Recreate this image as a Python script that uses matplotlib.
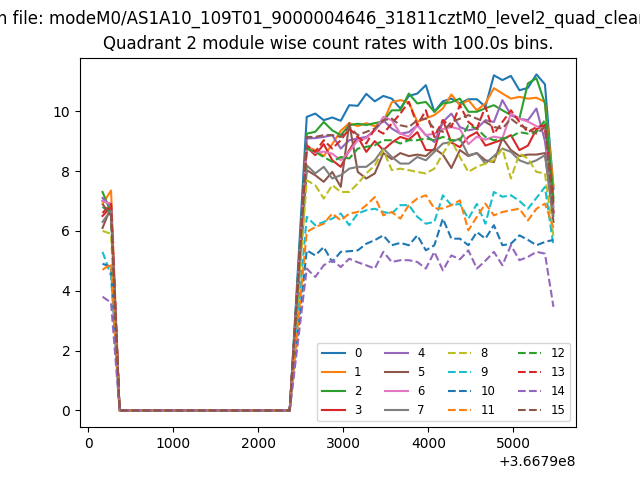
import matplotlib
matplotlib.use("Agg")
import matplotlib.pyplot as plt

# Time bins (s, MET), 100 s bins; a data gap between 366792370 and 366792570
t_head = [366790170, 366790270]
t_zero = [366790370 + 100 * k for k in range(21)]
t_high = [366792570 + 100 * k for k in range(30)]
times = t_head + t_zero + t_high

gap = [0.0] * 21

m0 = [7.0, 6.9] + gap + [9.81, 9.92, 9.70, 9.79, 9.68, 10.2, 10.18, 10.58, 10.33, 10.51, 10.42, 10.09, 10.51, 10.59, 10.87, 9.98, 10.33, 10.42, 10.26, 10.4, 10.4, 10.15, 11.2, 11.04, 11.18, 10.7, 10.78, 11.23, 10.9, 7.4]
m1 = [6.9, 7.35] + gap + [8.8, 8.7, 8.5, 8.9, 9.35, 9.6, 9.5, 9.6, 9.5, 9.65, 10.3, 10.37, 10.3, 9.64, 9.76, 9.87, 10.09, 10.56, 10.2, 10.37, 10.03, 10.26, 10.77, 10.59, 10.42, 10.48, 10.42, 10.45, 10.31, 7.5]
m2 = [7.3, 6.6] + gap + [9.25, 9.31, 9.64, 9.36, 9.2, 9.53, 9.58, 9.54, 9.6, 9.66, 10.03, 10.03, 10.59, 10.26, 10.31, 9.98, 10.26, 10.3, 10.42, 9.98, 9.98, 10.1, 10.2, 10.03, 9.87, 9.76, 10.93, 11.1, 10.26, 7.1]
m3 = [6.5, 6.8] + gap + [8.8, 8.53, 8.9, 8.36, 8.14, 8.7, 9.14, 8.64, 9.0, 8.7, 8.95, 9.14, 9.05, 9.3, 8.7, 8.7, 9.7, 8.95, 8.8, 9.14, 9.3, 8.85, 8.95, 9.05, 9.2, 8.7, 8.85, 9.4, 9.53, 6.6]
m4 = [7.1, 6.8] + gap + [9.09, 9.1, 9.14, 9.2, 8.75, 9.03, 9.09, 9.14, 9.36, 9.7, 9.42, 9.25, 9.3, 9.53, 9.2, 8.97, 9.64, 9.92, 9.47, 9.36, 9.42, 9.7, 9.64, 10.37, 9.87, 9.75, 9.7, 10.09, 9.0, 6.8]
m5 = [6.1, 6.8] + gap + [8.03, 7.86, 7.64, 7.97, 7.47, 9.6, 7.97, 7.75, 7.92, 8.6, 8.4, 8.6, 8.5, 8.55, 8.5, 8.75, 8.55, 8.1, 8.7, 8.5, 8.6, 8.36, 8.3, 9.1, 8.7, 8.5, 8.55, 8.55, 8.6, 6.3]
m6 = [7.0, 6.9] + gap + [8.81, 8.6, 8.65, 8.58, 8.36, 8.65, 9.03, 9.1, 9.36, 9.81, 9.7, 9.25, 9.15, 9.53, 9.2, 9.25, 9.4, 9.47, 9.4, 8.9, 9.15, 9.05, 9.15, 9.1, 9.92, 9.75, 9.65, 9.5, 9.4, 6.6]
m7 = [6.3, 6.7] + gap + [8.19, 7.92, 8.14, 7.75, 7.86, 8.08, 8.14, 8.14, 8.36, 8.75, 8.47, 8.25, 8.25, 8.47, 8.36, 8.64, 8.92, 8.97, 9.09, 8.53, 8.6, 8.25, 8.5, 8.75, 8.64, 8.36, 8.25, 8.36, 8.53, 6.5]
m8 = [6.0, 5.9] + gap + [7.69, 7.53, 7.08, 7.53, 7.3, 7.3, 7.58, 7.92, 8.19, 8.7, 8.03, 8.08, 8.03, 7.97, 7.92, 8.08, 8.58, 9.03, 8.47, 7.97, 8.14, 8.25, 8.36, 8.75, 7.75, 8.58, 8.42, 7.97, 7.92, 5.8]
m9 = [5.3, 4.5] + gap + [6.47, 6.19, 6.3, 6.41, 6.58, 6.19, 6.58, 6.69, 6.74, 6.63, 6.58, 6.86, 6.86, 6.47, 6.24, 6.3, 7.19, 6.86, 6.9, 6.41, 6.9, 6.24, 7.3, 7.14, 7.19, 7.0, 6.74, 7.1, 7.47, 5.5]
m10 = [4.9, 4.8] + gap + [5.35, 5.18, 5.46, 4.96, 5.3, 5.32, 5.35, 5.57, 5.69, 5.85, 5.52, 5.6, 5.52, 5.85, 5.35, 5.52, 6.41, 5.74, 5.74, 5.52, 5.96, 5.74, 6.19, 5.52, 5.57, 5.85, 5.7, 5.52, 5.63, 5.7]
m11 = [4.7, 4.9] + gap + [5.96, 6.13, 6.24, 6.58, 6.35, 6.58, 6.63, 6.86, 7.13, 6.52, 6.63, 6.41, 6.86, 7.08, 7.19, 6.75, 6.75, 6.86, 7.02, 6.02, 6.47, 6.91, 6.52, 6.63, 6.69, 6.74, 6.35, 6.74, 6.91, 6.1]
m12 = [6.8, 6.6] + gap + [8.75, 8.64, 8.47, 8.31, 8.47, 8.42, 8.75, 8.81, 8.86, 9.03, 9.03, 8.92, 9.03, 9.03, 9.09, 9.03, 9.14, 9.03, 9.03, 9.53, 9.42, 9.14, 9.03, 9.09, 9.14, 9.3, 9.25, 9.3, 9.7, 7.0]
m13 = [6.6, 6.9] + gap + [8.86, 8.64, 9.03, 8.75, 9.03, 9.42, 9.14, 8.92, 9.42, 9.25, 9.59, 9.92, 10.31, 9.53, 10.03, 9.14, 9.7, 9.47, 10.2, 9.64, 9.42, 10.15, 9.25, 9.64, 10.03, 9.64, 9.3, 9.47, 9.53, 6.9]
m14 = [3.8, 3.6] + gap + [4.74, 4.46, 4.85, 5.02, 4.79, 5.07, 4.95, 4.85, 4.74, 5.3, 4.96, 5.02, 5.02, 4.96, 4.74, 5.3, 4.68, 5.18, 5.05, 5.35, 4.74, 5.0, 5.3, 4.85, 5.52, 5.02, 5.13, 5.3, 5.24, 3.46]
m15 = [6.9, 6.5] + gap + [9.14, 9.14, 9.2, 9.2, 9.14, 9.47, 9.2, 9.31, 9.42, 9.7, 9.75, 9.53, 9.47, 9.7, 9.75, 9.42, 9.31, 9.64, 9.75, 9.87, 9.75, 9.64, 9.47, 9.42, 9.75, 9.53, 9.42, 9.25, 9.47, 6.6]

modules = [m0, m1, m2, m3, m4, m5, m6, m7, m8, m9, m10, m11, m12, m13, m14, m15]
labels = [str(i) for i in range(16)]

fig, ax = plt.subplots(figsize=(6.4, 4.8), dpi=100)
for i, vals in enumerate(modules):
    ls = '-' if i < 8 else '--'
    ax.plot(times, vals, ls, label=labels[i])

ax.legend(loc='lower right', ncol=4, fontsize='small')
ax.set_title("Quadrant 2 module wise count rates with 100.0s bins.")
fig.suptitle("In file: modeM0/AS1A10_109T01_9000004646_31811cztM0_level2_quad_clean")
fig.savefig("out.png", dpi=100)
